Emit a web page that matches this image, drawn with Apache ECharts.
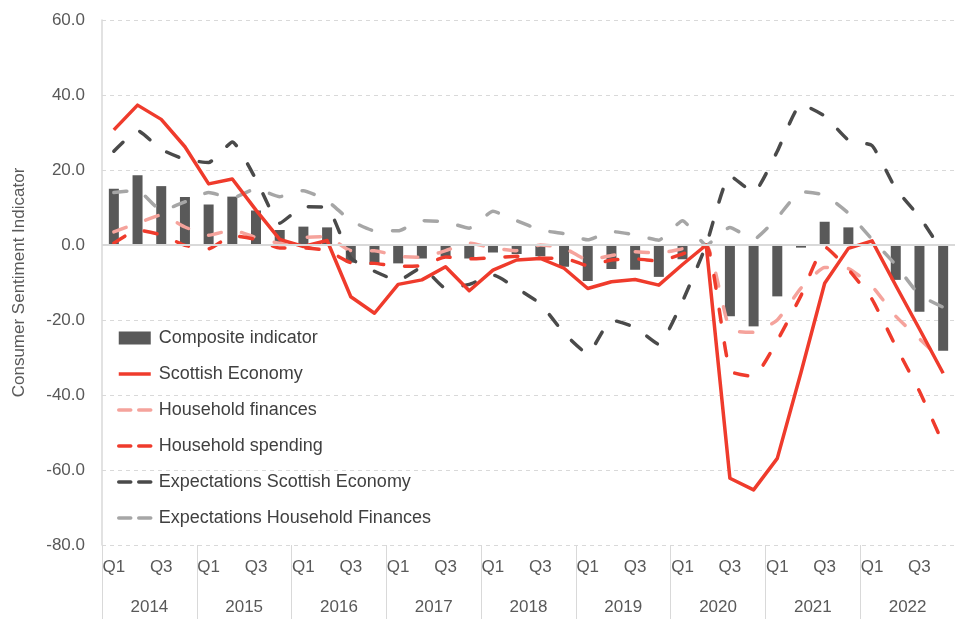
<!DOCTYPE html>
<html>
<head>
<meta charset="utf-8">
<script src="https://cdn.jsdelivr.net/npm/echarts@6/dist/echarts.min.js"></script>
<style>
  html, body { margin: 0; padding: 0; background: #fff; }
  #chart { width: 955px; height: 619px; }
</style>
</head>
<body>
<div id="chart"></div>
<script>
// categories
const years = ['2014', '2015', '2016', '2017', '2018', '2019', '2020', '2021', '2022'];
const quarterNames = ['Q1', 'Q2', 'Q3', 'Q4'];

// series values, 2014 Q1 .. 2022 Q4
const composite = [15.0, 18.6, 15.7, 12.8, 10.8, 12.9, 9.2, 4.0, 4.9, 4.7, -4.7, -5.3, -4.9, -3.6, -3.1, -3.6,
  -2.0, -2.4, -3.0, -5.8, -9.6, -6.4, -6.6, -8.5, -3.8, 0.0, -19.0, -21.7, -13.7, -0.7, 6.2, 4.7,
  0.0, -9.3, -17.8, -28.2];
const scottishEconomy = [30.7, 37.3, 33.5, 26.2, 16.3, 17.6, 9.3, 1.5, -0.4, 1.2, -13.8, -18.2, -10.5, -9.3, -5.8, -12.2,
  -6.7, -4.0, -3.6, -6.2, -11.6, -9.8, -9.2, -10.7, -5.2, 0.0, -62.2, -65.3, -56.9, -34.0, -10.2, -0.9,
  1.1, -10.8, -22.4, -34.2];
const householdFinances = [3.5, 5.8, 8.0, 4.8, 2.6, 4.0, 2.0, 0.5, 2.0, 2.2, -1.5, -1.5, -3.0, -3.3, -1.5, 0.5,
  -0.8, -1.5, 0.0, -0.8, -4.0, -2.8, -1.8, -2.2, -1.0, 0.0, -22.5, -23.3, -20.0, -11.5, -6.0, -6.3,
  -11.0, -19.0, -25.0, -31.0];
const householdSpending = [0.5, 4.0, 2.7, -0.1, -1.0, 2.5, 1.5, -0.8, -0.8, -1.5, -4.7, -4.9, -5.7, -5.5, -3.2, -3.7,
  -3.4, -3.0, -3.5, -3.5, -5.5, -4.0, -3.7, -4.3, -2.4, 0.0, -33.5, -35.0, -25.5, -13.5, -0.5, -6.5,
  -14.5, -27.0, -39.0, -53.0];
const expScottish = [25.0, 30.5, 25.5, 22.8, 22.0, 27.5, 17.5, 5.8, 10.2, 10.0, -3.5, -7.0, -9.5, -6.0, -11.5, -10.5,
  -8.0, -11.5, -15.7, -23.5, -29.0, -20.0, -22.0, -26.5, -15.0, 0.0, 18.5, 14.0, 25.0, 37.5, 34.4, 28.0,
  26.5, 15.0, 7.5, -2.0];
const expHousehold = [14.0, 14.6, 9.2, 11.5, 14.0, 12.5, 15.0, 12.9, 14.5, 11.8, 6.5, 3.8, 3.8, 6.5, 6.2, 4.5,
  9.0, 6.5, 4.0, 3.0, 1.4, 3.6, 2.7, 1.3, 6.5, 0.0, 4.7, 1.5, 7.3, 14.2, 13.3, 8.5,
  1.5, -5.3, -13.3, -16.6];

// tick labels
const yTicks = { min: -80, max: 60, step: 20 };

const quarters = [];
years.forEach(y => quarterNames.forEach(q => quarters.push(q)));

const font = '"Liberation Sans", Arial, sans-serif';
const red = '#ef3b2c';
const pink = '#f5a39c';
const darkGrey = '#4a4a4a';
const lightGrey = '#a6a6a6';

function dashed(name, data, color) {
  return {
    name: name,
    type: 'line',
    data: data,
    symbol: 'none',
    smooth: 0.15,
    z: 3,
    lineStyle: { color: color, width: 3.5, type: [13, 21], cap: 'round', join: 'round' },
    itemStyle: { color: color }
  };
}

// line legend entries: line only, hide the marker
const lineLegend = (name, dash) => ({
  name: name,
  itemStyle: { opacity: 0 },
  lineStyle: { width: 3.5, type: dash ? [12, 8] : 'solid', cap: dash ? 'round' : 'butt' }
});

const chart = echarts.init(document.getElementById('chart'));
chart.setOption({
  animation: false,
  textStyle: { fontFamily: font },
  grid: { left: 102, top: 20, width: 864, height: 525 },
  legend: {
    orient: 'vertical',
    left: 112,
    top: 323,
    itemWidth: 32,
    itemHeight: 13,
    itemGap: 16,
    textStyle: { fontSize: 18, color: '#404040', fontFamily: font, lineHeight: 20, padding: [0, 0, 0, 3] },
    data: [
      { name: 'Composite indicator', icon: 'rect' },
      lineLegend('Scottish Economy', false),
      lineLegend('Household finances', true),
      lineLegend('Household spending', true),
      lineLegend('Expectations Scottish Economy', true),
      lineLegend('Expectations Household Finances', true)
    ]
  },
  xAxis: [
    {
      type: 'category',
      data: quarters,
      position: 'bottom',
      axisLine: { show: false, onZero: false },
      axisTick: { show: true, interval: 3, length: 76, lineStyle: { color: '#d9d9d9', width: 1 } },
      axisLabel: { interval: 1, fontSize: 17, color: '#595959', margin: 14, fontFamily: font }
    },
    {
      type: 'category',
      data: years,
      position: 'bottom',
      offset: 40,
      axisLine: { show: false, onZero: false },
      axisTick: { show: false },
      axisLabel: { fontSize: 17, color: '#595959', margin: 14, fontFamily: font }
    }
  ],
  yAxis: {
    type: 'value',
    min: yTicks.min,
    max: yTicks.max,
    interval: yTicks.step,
    name: 'Consumer Sentiment Indicator',
    nameLocation: 'middle',
    nameGap: 74,
    nameTextStyle: { fontSize: 17, color: '#595959', fontFamily: font },
    axisLine: { show: true, lineStyle: { color: '#d9d9d9', width: 1.5 } },
    axisTick: { show: false },
    axisLabel: { fontSize: 17, color: '#595959', margin: 17, fontFamily: font, formatter: v => v.toFixed(1) },
    splitLine: { show: true, lineStyle: { color: '#d9d9d9', type: [4, 4], width: 1 } }
  },
  series: [
    {
      name: 'Composite indicator',
      type: 'bar',
      data: composite,
      barWidth: 10,
      z: 2,
      itemStyle: { color: '#595959' },
      markLine: {
        silent: true,
        symbol: 'none',
        label: { show: false },
        lineStyle: { color: '#d9d9d9', type: 'solid', width: 2 },
        data: [{ yAxis: 0 }]
      }
    },
    {
      name: 'Scottish Economy',
      type: 'line',
      data: scottishEconomy,
      symbol: 'none',
      z: 4,
      lineStyle: { color: red, width: 3.5, join: 'round' },
      itemStyle: { color: red }
    },
    dashed('Household finances', householdFinances, pink),
    dashed('Household spending', householdSpending, red),
    dashed('Expectations Scottish Economy', expScottish, darkGrey),
    dashed('Expectations Household Finances', expHousehold, lightGrey)
  ]
});
</script>
</body>
</html>
